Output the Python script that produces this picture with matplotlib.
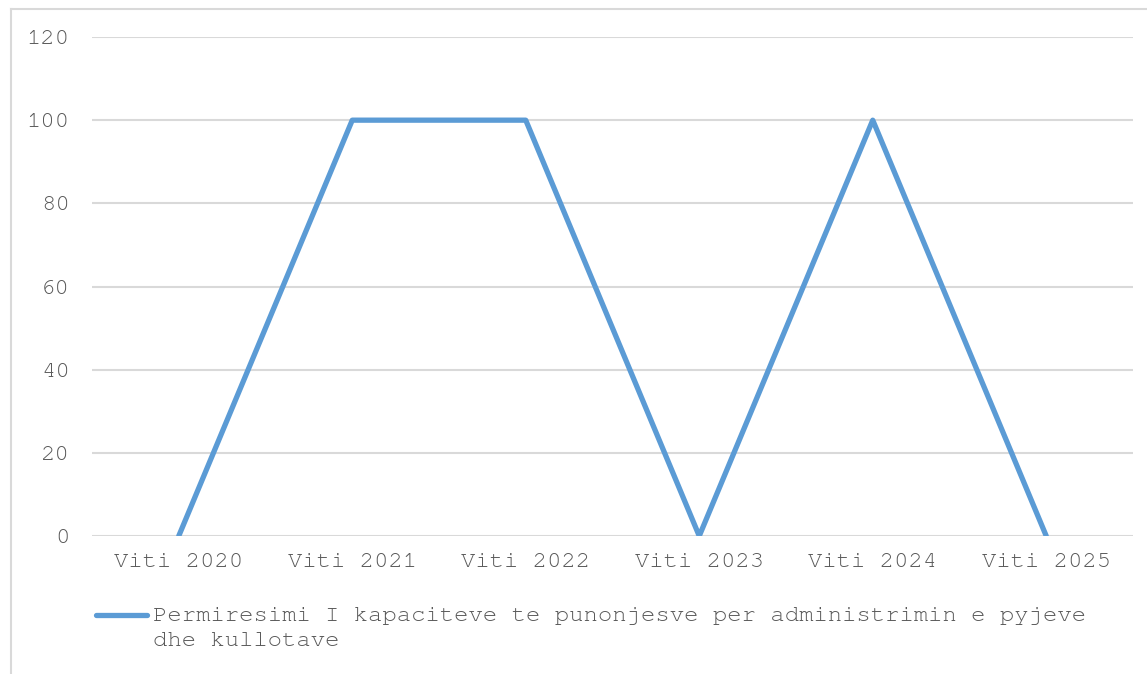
import matplotlib
matplotlib.use("Agg")
import matplotlib.pyplot as plt
from matplotlib.lines import Line2D
from matplotlib import font_manager

categories = ["Viti 2020", "Viti 2021", "Viti 2022", "Viti 2023", "Viti 2024", "Viti 2025"]
values = [0, 100, 100, 0, 100, 0]
series_label = "Permiresimi I kapaciteve te punonjesve per administrimin e pyjeve\ndhe kullotave"
yticks = [0, 20, 40, 60, 80, 100, 120]

# pick a Courier-like font if available
names = {f.name for f in font_manager.fontManager.ttflist}
font = "Liberation Mono"
for cand in ["Courier New", "Courier", "Nimbus Mono PS", "Nimbus Mono L", "FreeMono", "Courier Prime"]:
    if cand in names:
        font = cand
        break

W, H = 1147, 674
fig = plt.figure(figsize=(W / 100, H / 100), dpi=100)
fig.patch.set_facecolor("white")
ax = fig.add_axes([92 / W, 1 - 536 / H, (1133 - 92) / W, (536 - 37) / H])

text_color = "#595959"
grid_color = "#D9D9D9"
line_color = "#5B9BD5"
fs = 17.2

x = list(range(len(categories)))
ax.plot(x, values, color=line_color, linewidth=3.8, solid_capstyle="round",
        solid_joinstyle="round", zorder=3)

ax.set_xlim(-0.5, len(categories) - 0.5)
ax.set_ylim(0, 120)
ax.set_yticks(yticks)
ax.set_yticklabels([str(v) for v in yticks], fontsize=fs, family=font, color=text_color)
ax.set_xticks(x)
ax.set_xticklabels(categories, fontsize=fs, family=font, color=text_color)
ax.tick_params(axis="both", length=0)
ax.tick_params(axis="y", pad=16)
ax.tick_params(axis="x", pad=12)
ax.grid(axis="y", color=grid_color, linewidth=1.5)
ax.set_axisbelow(True)
for s in ax.spines.values():
    s.set_visible(False)

# legend (handle aligned with the first text line)
fig.add_artist(Line2D([96 / W, 147 / W], [1 - 615 / H, 1 - 615 / H], transform=fig.transFigure,
                      color=line_color, linewidth=3.8, solid_capstyle="round"))
fig.text(153 / W, 1 - 607 / H, series_label, family=font, fontsize=fs, color=text_color,
         ha="left", va="top", linespacing=1.5)

# chart frame (partially outside image)
fig.add_artist(Line2D([10.5 / W, 10.5 / W], [0, 1 - 8.5 / H], transform=fig.transFigure,
                      color=grid_color, linewidth=1.5))
fig.add_artist(Line2D([10.5 / W, 1], [1 - 8.5 / H, 1 - 8.5 / H], transform=fig.transFigure,
                      color=grid_color, linewidth=1.5))

fig.savefig("out.png", dpi=100)
